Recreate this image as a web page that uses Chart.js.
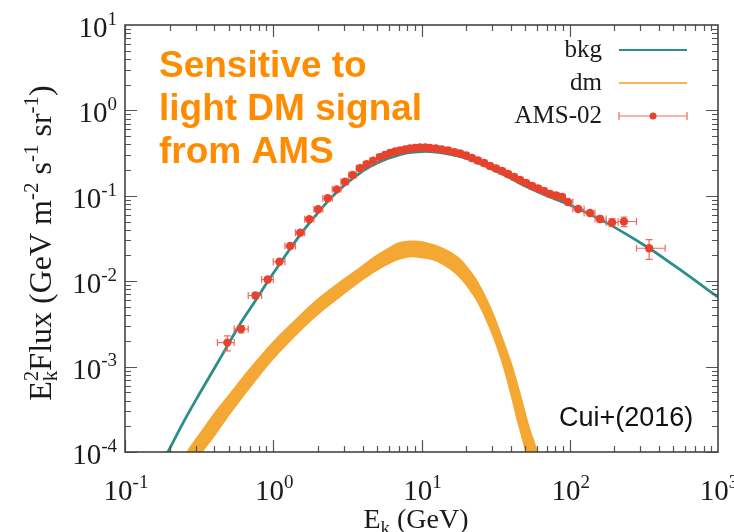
<!DOCTYPE html>
<html><head><meta charset="utf-8">
<script src="https://cdn.jsdelivr.net/npm/chart.js@4.4.1/dist/chart.umd.min.js"></script>
<style>html,body{margin:0;padding:0;background:#fff;}#wrap{width:734px;height:532px;position:relative;}</style>
</head><body><div id="wrap"><canvas id="c" width="734" height="532"></canvas></div>
<script>
// ---------------- data ----------------
const xTickExponents = [-1, 0, 1, 2, 3];
const yTickExponents = [-4, -3, -2, -1, 0, 1];
const legendLabels = ['bkg', 'dm', 'AMS-02'];
const annotationLines = ['Sensitive to', 'light DM signal', 'from AMS'];
const creditText = 'Cui+(2016)';

// background model (E in GeV, E^2 Flux)
const bkgE    = [0.18, 0.195, 0.25, 0.32, 0.4, 0.5, 0.6, 0.75, 0.9, 1.1, 1.3, 1.5, 1.75, 2.0, 2.33, 2.68, 3.05, 3.43, 3.85, 4.3, 5, 6, 7, 8, 10, 12, 15, 20, 30, 40, 50, 70, 100, 150, 200, 343, 500, 700, 1000, 1100];
const bkgFlux = [7.5e-5, 1.0e-4, 2.3e-4, 4.9e-4, 9.5e-4, 1.85e-3, 3.2e-3, 5.75e-3, 9.4e-3, 0.0158, 0.024, 0.034, 0.048, 0.063, 0.086, 0.110, 0.135, 0.16, 0.185, 0.21, 0.24, 0.275, 0.30, 0.318, 0.33, 0.328, 0.31, 0.275, 0.205, 0.16, 0.13, 0.100, 0.078, 0.056, 0.043, 0.0243, 0.0155, 0.0102, 0.0065, 0.0058];

// dark matter band (upper / lower edges)
const dmE     = [0.2, 0.26, 0.3, 0.336, 0.4, 0.5, 0.7, 1.0, 1.5, 2, 3, 4, 5, 6, 7, 8, 9, 10, 12, 15, 18, 20, 23, 26, 30, 35, 40, 44, 50, 54, 60, 66];
const dmUpper = [4e-5, 1.0e-4, 1.45e-4, 1.9e-4, 2.9e-4, 4.7e-4, 9.8e-4, 2.0e-3, 4.0e-3, 6.3e-3, 0.0108, 0.0155, 0.0205, 0.0248, 0.0285, 0.0298, 0.0300, 0.0294, 0.0272, 0.0232, 0.0188, 0.0155, 0.0113, 0.0078, 0.0046, 0.0023, 1.2e-3, 7e-4, 3.1e-4, 1.9e-4, 1.1e-4, 5e-5];
const dmLower = [1.5e-5, 4.5e-5, 7e-5, 1.0e-4, 1.5e-4, 2.6e-4, 5.6e-4, 1.2e-3, 2.5e-3, 4.0e-3, 7.0e-3, 0.0102, 0.0132, 0.0157, 0.0177, 0.0188, 0.019, 0.0186, 0.0175, 0.0143, 0.011, 0.0088, 0.0062, 0.0041, 0.0023, 1.05e-3, 4.5e-4, 2.3e-4, 1.0e-4, 5e-5, 2e-5, 8e-6];

// AMS-02 data points
const amsE    = [0.49, 0.606, 0.759, 0.918, 1.10, 1.30, 1.52, 1.75, 2.01, 2.33, 2.68, 3.05, 3.43, 3.85, 4.27, 4.73, 5.25, 5.67, 6.13, 6.63, 7.16, 7.74, 8.36, 9.04, 9.77, 10.6, 11.4, 12.5, 13.7, 15.1, 16.6, 18.2, 20.0, 21.9, 24.0, 26.4, 29.0, 31.8, 34.9, 38.3, 42.1, 46.2, 50.7, 55.6, 61.1, 67.0, 73.6, 80.8, 88.7, 97.3, 114, 137, 160, 193, 232, 343];
const amsFlux = [1.91e-3, 2.75e-3, 6.8e-3, 0.01045, 0.0169, 0.0258, 0.037, 0.0531, 0.0695, 0.0935, 0.119, 0.146, 0.175, 0.21, 0.234, 0.258, 0.284, 0.300, 0.317, 0.330, 0.339, 0.348, 0.358, 0.363, 0.368, 0.368, 0.363, 0.358, 0.348, 0.339, 0.325, 0.313, 0.296, 0.277, 0.259, 0.242, 0.223, 0.209, 0.195, 0.180, 0.166, 0.153, 0.141, 0.130, 0.122, 0.114, 0.105, 0.101, 0.0968, 0.0846, 0.070, 0.0629, 0.0535, 0.0487, 0.050, 0.0243];
// energy bin edges (n+1 values)
const amsEdges = [0.42, 0.545, 0.678, 0.835, 1.00, 1.20, 1.41, 1.63, 1.88, 2.16, 2.50, 2.86, 3.23, 3.63, 4.05, 4.49, 4.98, 5.46, 5.90, 6.38, 6.89, 7.44, 8.04, 8.69, 9.40, 10.2, 11.0, 11.9, 13.1, 14.4, 15.8, 17.4, 19.1, 20.9, 22.9, 25.2, 27.7, 30.4, 33.3, 36.6, 40.2, 44.1, 48.4, 53.1, 58.3, 64.0, 70.2, 77.1, 84.7, 92.9, 105, 125, 148, 176, 212, 282, 440];
// relative flux uncertainty
const amsRelErr = [0.2, 0.1, 0.07, 0.06, 0.05, 0.05, 0.045, 0.04, 0.04, 0.04, 0.035, 0.035, 0.035, 0.03, 0.03, 0.03, 0.03, 0.03, 0.03, 0.03, 0.03, 0.03, 0.03, 0.03, 0.03, 0.03, 0.03, 0.03, 0.03, 0.03, 0.03, 0.03, 0.03, 0.03, 0.03, 0.03, 0.03, 0.035, 0.035, 0.035, 0.035, 0.04, 0.04, 0.04, 0.04, 0.045, 0.045, 0.05, 0.05, 0.05, 0.06, 0.07, 0.08, 0.1, 0.13, 0.26];

// ---------------- styles ----------------
const TEAL = '#2a8f8a';
const ORANGE_BAND = '#f5a733';
const ORANGE_LEG = '#f8b44e';
const RED = '#e8412c';
const RED_ERR = '#ef6a5a';
const SERIF = '"Liberation Serif", "DejaVu Serif", serif';
const SANS = '"Liberation Sans", Arial, sans-serif';

const toXY = (xs, ys) => xs.map((v, i) => ({x: v, y: ys[i]}));

function drawPow(ctx, base, exp, xRight, xCenter, baseY, align, size) {
  const expSize = Math.round(size * 0.66);
  ctx.font = size + 'px ' + SERIF;
  const wb = ctx.measureText(base).width;
  ctx.font = expSize + 'px ' + SERIF;
  const we = ctx.measureText(exp).width;
  const total = wb + we;
  let x0 = align === 'right' ? xRight - total : xCenter - total / 2;
  ctx.textAlign = 'left';
  ctx.textBaseline = 'alphabetic';
  ctx.font = size + 'px ' + SERIF;
  ctx.fillText(base, x0, baseY);
  ctx.font = expSize + 'px ' + SERIF;
  ctx.fillText(exp, x0 + wb, baseY - size * 0.42);
}

// draw a sequence of [text, size, baselineShift, advance?] runs
function drawRuns(ctx, runs, x0, by) {
  let cx = x0;
  runs.forEach(r => {
    ctx.font = r[1] + 'px ' + SERIF;
    ctx.fillText(r[0], cx, by + r[2]);
    if (r[3] !== false) cx += ctx.measureText(r[0]).width;
  });
  return cx - x0;
}
function runsWidth(ctx, runs) {
  let w = 0;
  runs.forEach(r => { ctx.font = r[1] + 'px ' + SERIF; if (r[3] !== false) w += ctx.measureText(r[0]).width; });
  return w;
}

const errorBars = {
  id: 'errorBars',
  beforeDatasetDraw(chart, args) {
    if (args.index !== 0) return;
    const {ctx, chartArea: a, scales: {x, y}} = chart;
    ctx.save();
    ctx.beginPath(); ctx.rect(a.left, a.top, a.right - a.left, a.bottom - a.top); ctx.clip();
    ctx.strokeStyle = RED_ERR; ctx.lineWidth = 1.2;
    ctx.beginPath();
    amsE.forEach((e, i) => {
      const px = x.getPixelForValue(e), py = y.getPixelForValue(amsFlux[i]);
      const xl = x.getPixelForValue(amsEdges[i]), xr = x.getPixelForValue(amsEdges[i + 1]);
      const yt = y.getPixelForValue(amsFlux[i] * (1 + amsRelErr[i]));
      const yb = y.getPixelForValue(amsFlux[i] * (1 - amsRelErr[i]));
      const c = 3.5;
      ctx.moveTo(xl, py); ctx.lineTo(xr, py);
      ctx.moveTo(xl, py - c); ctx.lineTo(xl, py + c);
      ctx.moveTo(xr, py - c); ctx.lineTo(xr, py + c);
      ctx.moveTo(px, yt); ctx.lineTo(px, yb);
      ctx.moveTo(px - c, yt); ctx.lineTo(px + c, yt);
      ctx.moveTo(px - c, yb); ctx.lineTo(px + c, yb);
    });
    ctx.stroke();
    ctx.restore();
  }
};

const decorations = {
  id: 'decorations',
  afterDraw(chart) {
    const {ctx, chartArea: a, scales: {x, y}} = chart;
    ctx.save();
    // ticks
    ctx.strokeStyle = '#555'; ctx.lineWidth = 1.2;
    ctx.beginPath();
    for (let e = xTickExponents[0]; e < xTickExponents[xTickExponents.length - 1]; e++) {
      for (let m = 1; m < 10; m++) {
        const px = Math.round(x.getPixelForValue(m * Math.pow(10, e))) + 0.5;
        const L = m === 1 ? 12 : 6;
        ctx.moveTo(px, a.bottom); ctx.lineTo(px, a.bottom - L);
        ctx.moveTo(px, a.top); ctx.lineTo(px, a.top + L);
      }
    }
    for (let e = yTickExponents[0]; e < yTickExponents[yTickExponents.length - 1]; e++) {
      for (let m = 1; m < 10; m++) {
        const py = Math.round(y.getPixelForValue(m * Math.pow(10, e))) + 0.5;
        const L = m === 1 ? 12 : 6;
        ctx.moveTo(a.left, py); ctx.lineTo(a.left + L, py);
        ctx.moveTo(a.right, py); ctx.lineTo(a.right - L, py);
      }
    }
    ctx.stroke();
    // frame
    ctx.strokeStyle = '#444'; ctx.lineWidth = 1.6;
    ctx.strokeRect(a.left, a.top, a.right - a.left, a.bottom - a.top);

    // tick labels
    ctx.fillStyle = '#1a1a1a';
    xTickExponents.forEach(e => {
      const px = x.getPixelForValue(Math.pow(10, e));
      drawPow(ctx, '10', String(e), 0, px + 1, a.bottom + 48, 'center', 29);
    });
    yTickExponents.forEach(e => {
      const py = y.getPixelForValue(Math.pow(10, e));
      drawPow(ctx, '10', String(e), a.left - 8, 0, py + 12, 'right', 29);
    });

    ctx.textAlign = 'left'; ctx.textBaseline = 'alphabetic';
    // x title: E_k (GeV)
    {
      const runs = [['E', 28, 0], ['k', 19, 6], [' (GeV)', 28, 0]];
      const w = runsWidth(ctx, runs);
      drawRuns(ctx, runs, 416 - w / 2, 528);
    }
    // y title (rotated)
    {
      const runs = [['E', 32, 0], ['k', 21, 6, false], ['2', 21, -13], ['Flux (GeV m', 32, 0], ['-2', 21, -13],
        [' s', 32, 0], ['-1', 21, -13], [' sr', 32, 0], ['-1', 21, -13], [')', 32, 0]];
      const w = runsWidth(ctx, runs);
      ctx.save();
      ctx.translate(51, 243);
      ctx.rotate(-Math.PI / 2);
      drawRuns(ctx, runs, -w / 2, 0);
      ctx.restore();
    }

    // legend
    ctx.font = '25px ' + SERIF; ctx.textAlign = 'right'; ctx.textBaseline = 'middle';
    ctx.fillStyle = '#1a1a1a';
    const legY = [50, 83, 116];
    legendLabels.forEach((t, i) => ctx.fillText(t, 602, legY[i]));
    ctx.lineWidth = 2.2;
    ctx.strokeStyle = TEAL; ctx.beginPath(); ctx.moveTo(619, legY[0]); ctx.lineTo(687, legY[0]); ctx.stroke();
    ctx.strokeStyle = ORANGE_LEG; ctx.beginPath(); ctx.moveTo(619, legY[1]); ctx.lineTo(687, legY[1]); ctx.stroke();
    ctx.strokeStyle = RED_ERR; ctx.lineWidth = 1.2; ctx.beginPath();
    ctx.moveTo(619, legY[2]); ctx.lineTo(687, legY[2]);
    ctx.moveTo(619, legY[2] - 4); ctx.lineTo(619, legY[2] + 4);
    ctx.moveTo(687, legY[2] - 4); ctx.lineTo(687, legY[2] + 4);
    ctx.stroke();
    ctx.fillStyle = RED; ctx.beginPath(); ctx.arc(653, legY[2], 3.5, 0, Math.PI * 2); ctx.fill();

    // annotation
    ctx.fillStyle = '#ff8c00'; ctx.font = 'bold 37px ' + SANS; ctx.textAlign = 'left'; ctx.textBaseline = 'alphabetic';
    annotationLines.forEach((t, i) => ctx.fillText(t, 159, 77 + i * 43));

    ctx.fillStyle = '#111'; ctx.font = '27px ' + SANS;
    ctx.fillText(creditText, 559, 426);
    ctx.restore();
  }
};

new Chart(document.getElementById('c'), {
  type: 'scatter',
  data: {
    datasets: [
      { label: 'AMS-02', data: toXY(amsE, amsFlux), showLine: false, pointRadius: 4.2, pointBackgroundColor: RED, pointBorderWidth: 0, pointBorderColor: RED },
      { label: 'bkg', data: toXY(bkgE, bkgFlux), showLine: true, borderColor: TEAL, borderWidth: 2.8, pointRadius: 0, tension: 0.35, fill: false },
      { label: 'dm', data: toXY(dmE, dmUpper), showLine: true, borderWidth: 0, borderColor: 'rgba(0,0,0,0)', backgroundColor: ORANGE_BAND, pointRadius: 0, tension: 0.35, fill: '+1' },
      { label: 'dm-low', data: toXY(dmE, dmLower), showLine: true, borderWidth: 0, borderColor: 'rgba(0,0,0,0)', pointRadius: 0, tension: 0.35, fill: false }
    ]
  },
  options: {
    responsive: false, animation: false, devicePixelRatio: 1,
    layout: { padding: { left: 125, top: 25, right: 16, bottom: 80 } },
    plugins: { legend: { display: false }, tooltip: { enabled: false } },
    scales: {
      x: { type: 'logarithmic', min: 0.1, max: 1000, display: false },
      y: { type: 'logarithmic', min: 1e-4, max: 10, display: false }
    }
  },
  plugins: [errorBars, decorations]
});
</script></body></html>
